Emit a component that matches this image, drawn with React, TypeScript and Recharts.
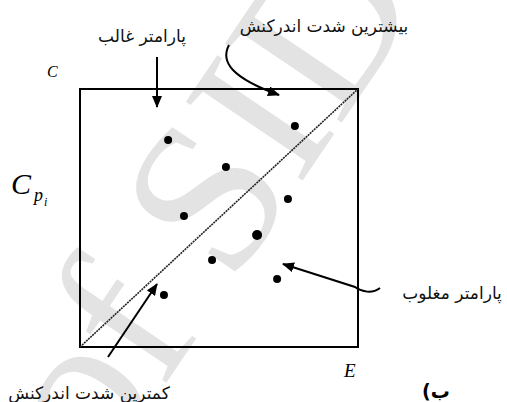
import React from 'react';
import { ScatterChart, Scatter, XAxis, YAxis, ReferenceArea, ReferenceLine } from 'recharts';

// parameter positions inside the box (E on x, Cpi on y), both 0..100
const paramE = [31.7, 77.3, 52.5, 74.8, 37.4, 63.7, 47.5, 70.9, 30.2];
const paramC = [80.2, 85.7, 69.8, 57.4, 50.8, 43.4, 33.7, 26.4, 20.2];
const paramSize = [4, 4, 4, 4, 4, 5, 4, 4, 4];

const labelDominant = 'پارامتر غالب';
const labelMax = 'بیشترین شدت اندرکنش';
const labelDominated = 'پارامتر مغلوب';
const labelMin = 'کمترین شدت اندرکنش';
const labelFig = 'ب)';

const points = paramE.map((e, i) => ({ e, c: paramC[i], r: paramSize[i] }));

const W = 507;
const H = 402;

const Dot = (props: any) => {
    const { cx, cy, payload } = props;
    return <circle cx={cx} cy={cy} r={payload.r} fill="#000" />;
};

export default function App() {
    const persian = { fontFamily: '"DejaVu Sans", sans-serif', fontSize: 17, fill: '#111' };
    return (
        <div style={{ position: 'absolute', left: 0, top: 0, width: W, height: H, background: '#fff', overflow: 'hidden' }}>
            {/* faint watermark behind everything */}
            <svg width={W} height={H} style={{ position: 'absolute', left: 0, top: 0 }}>
                <g transform="translate(205,200) rotate(-56)">
                    <text x={0} y={70} textAnchor="middle" fontFamily='"Liberation Serif", serif' fontSize={215} fill="#e3e3e3">
                        of SID
                    </text>
                </g>
            </svg>
            <div style={{ position: 'absolute', left: 0, top: 0 }}>
                <ScatterChart width={W} height={H} margin={{ top: 89, left: 80, right: 149, bottom: 55 }}>
                    <XAxis type="number" dataKey="e" domain={[0, 100]} hide />
                    <YAxis type="number" dataKey="c" domain={[0, 100]} hide />
                    <ReferenceArea x1={0} x2={100} y1={0} y2={100} fill="none" fillOpacity={0} stroke="#000" strokeWidth={2} />
                    <ReferenceLine segment={[{ x: 0, y: 0 }, { x: 100, y: 100 }]} stroke="#222" strokeWidth={1.6} strokeDasharray="2 0.8" />
                    <Scatter data={points} shape={Dot} isAnimationActive={false} />
                </ScatterChart>
            </div>
            {/* annotations */}
            <svg width={W} height={H} style={{ position: 'absolute', left: 0, top: 0, pointerEvents: 'none' }}>
                <defs>
                    <marker id="head" viewBox="0 0 12 10" refX="11" refY="5" markerWidth="12" markerHeight="10" markerUnits="userSpaceOnUse" orient="auto">
                        <path d="M0,0 L12,5 L0,10 z" fill="#000" />
                    </marker>
                </defs>
                <path d="M157,57 L157,107" stroke="#000" strokeWidth={2} fill="none" markerEnd="url(#head)" />
                <path d="M229,45 C220,62 232,78 279,95" stroke="#000" strokeWidth={2} fill="none" markerEnd="url(#head)" />
                <path d="M380,288 C372,294 362,292 355,287 L283,264" stroke="#000" strokeWidth={2} fill="none" markerEnd="url(#head)" />
                <path d="M108,357 L157,284" stroke="#000" strokeWidth={2} fill="none" markerEnd="url(#head)" />

                <text x={142} y={42} textAnchor="middle" direction="rtl" {...persian}>{labelDominant}</text>
                <text x={324} y={32} textAnchor="middle" direction="rtl" {...persian}>{labelMax}</text>
                <text x={452} y={299} textAnchor="middle" direction="rtl" {...persian}>{labelDominated}</text>
                <text x={89} y={399} textAnchor="middle" direction="rtl" {...persian}>{labelMin}</text>
                <text x={436} y={398} textAnchor="middle" direction="rtl" fontFamily='"DejaVu Sans", sans-serif' fontWeight="bold" fontSize={19} fill="#000">{labelFig}</text>

                <g fontFamily='"Liberation Serif", serif' fontStyle="italic" fill="#000">
                    <text x={47} y={77} fontSize={16}>C</text>
                    <text x={11} y={194} fontSize={30}>C</text>
                    <text x={34} y={201} fontSize={18}>p</text>
                    <text x={44} y={206} fontSize={12}>i</text>
                    <text x={344} y={377} fontSize={19}>E</text>
                </g>
            </svg>
        </div>
    );
}
